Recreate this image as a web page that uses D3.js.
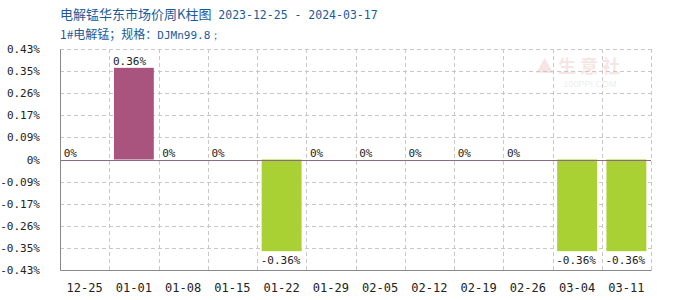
<!DOCTYPE html>
<html>
<head>
<meta charset="utf-8">
<script src="https://cdn.jsdelivr.net/npm/d3@7"></script>
<style>
body { margin: 0; background: #fff; }
svg { display: block; }
</style>
</head>
<body>
<svg width="700" height="300"></svg>
<script>
const categories = ["12-25", "01-01", "01-08", "01-15", "01-22", "01-29", "02-05", "02-12", "02-19", "02-26", "03-04", "03-11"];
const values = [0, 0.36, 0, 0, -0.36, 0, 0, 0, 0, 0, -0.36, -0.36];
const yTicks = [-0.434, -0.347, -0.26, -0.174, -0.087, 0, 0.087, 0.174, 0.26, 0.347, 0.434];
const yTickLabels = ["-0.43%", "-0.35%", "-0.26%", "-0.17%", "-0.09%", "0%", "0.09%", "0.17%", "0.26%", "0.35%", "0.43%"];
const titleMain = "电解锰华东市场价周K柱图";
const titleDates = " 2023-12-25 - 2024-03-17";
const subMain = "1#电解锰；规格：";
const subCode = "DJMn99.8；";

const svg = d3.select("svg");
const margin = { top: 49, right: 49, bottom: 30, left: 60 };
const width = 700, height = 300;
const innerWidth = width - margin.left - margin.right;
const innerHeight = height - margin.top - margin.bottom;
const mono = "'DejaVu Sans Mono', monospace";
const cjk = "'Noto Sans CJK SC', sans-serif";

const t1 = svg.append("text").attr("x", 60).attr("y", 19).attr("fill", "#1a5a9a");
t1.append("tspan").style("font", `13px ${cjk}`).text(titleMain);
t1.append("tspan").style("font", `11.5px ${mono}`).text(titleDates);
const t2 = svg.append("text").attr("x", 60).attr("y", 39).attr("fill", "#1a5a9a");
t2.append("tspan").style("font", `12px ${cjk}`).text(subMain);
t2.append("tspan").style("font", `11px ${mono}`).text(subCode);

const g = svg.append("g").attr("transform", `translate(${margin.left}, ${margin.top})`);

const xScale = d3.scaleBand().domain(categories).range([0, innerWidth]).paddingInner(0.19).paddingOuter(0.095);
const xGrid = d3.scaleLinear().domain([0, categories.length]).range([0, innerWidth]);
const yScale = d3.scaleLinear().domain([-0.434, 0.434]).range([innerHeight, 0]);

// watermark
const wm = g.append("g").attr("opacity", 0.12);
wm.append("text").attr("x", 518).attr("y", 24).attr("text-anchor", "middle")
	.attr("fill", "#c03030").style("font", `bold 18px ${cjk}`).text("▲ 生 意 社");
wm.append("text").attr("x", 530).attr("y", 38).attr("text-anchor", "middle")
	.attr("fill", "#666").style("font", "9px sans-serif").text("100PPI.COM");

// horizontal grid
g.selectAll(".hgrid").data(yTicks.filter((d) => d !== 0 && d !== -0.434)).enter().append("line")
	.attr("x1", 0).attr("x2", innerWidth)
	.attr("y1", (d) => Math.round(yScale(d)) + 0.5).attr("y2", (d) => Math.round(yScale(d)) + 0.5)
	.attr("stroke", "#c8c8c8").attr("stroke-dasharray", "4,3");

// vertical grid
g.selectAll(".vgrid").data(d3.range(1, categories.length + 1)).enter().append("line")
	.attr("x1", (d) => Math.round(xGrid(d)) + 0.5).attr("x2", (d) => Math.round(xGrid(d)) + 0.5)
	.attr("y1", 0).attr("y2", innerHeight)
	.attr("stroke", "#c8c8c8").attr("stroke-dasharray", "4,3");

// bars
g.selectAll(".bar").data(values).enter().append("rect")
	.attr("x", (d, i) => xScale(categories[i]))
	.attr("width", xScale.bandwidth())
	.attr("y", (d) => yScale(Math.max(0, d)))
	.attr("height", (d) => Math.abs(yScale(d) - yScale(0)))
	.attr("fill", (d) => (d > 0 ? "#a8547f" : "#a9d134"));

// value labels
g.selectAll(".vlabel").data(values).enter().append("text")
	.attr("x", (d, i) => xScale(categories[i]) - 1)
	.attr("y", (d) => (d < 0 ? yScale(d) + 13 : yScale(d) - 3))
	.attr("fill", "#222").style("font", `11px ${mono}`)
	.text((d) => (d === 0 ? "0%" : d.toFixed(2) + "%"));

// zero line
g.append("line").attr("x1", 0).attr("x2", innerWidth)
	.attr("y1", Math.round(yScale(0)) + 0.5).attr("y2", Math.round(yScale(0)) + 0.5)
	.attr("stroke", "#8c6a80");

// axes
const yAxis = g.append("g").call(d3.axisLeft(yScale).tickValues(yTicks).tickSize(0).tickPadding(20)
	.tickFormat((d, i) => yTickLabels[i]));
yAxis.select(".domain").attr("stroke", "#888");
yAxis.selectAll("text").style("font", `11px ${mono}`).attr("fill", "#222");

const xAxis = g.append("g").attr("transform", `translate(0, ${innerHeight})`)
	.call(d3.axisBottom(xScale).tickSize(0).tickPadding(13));
xAxis.select(".domain").attr("stroke", "#888");
xAxis.selectAll("text").style("font", `12px ${mono}`).attr("fill", "#222");
</script>
</body>
</html>
